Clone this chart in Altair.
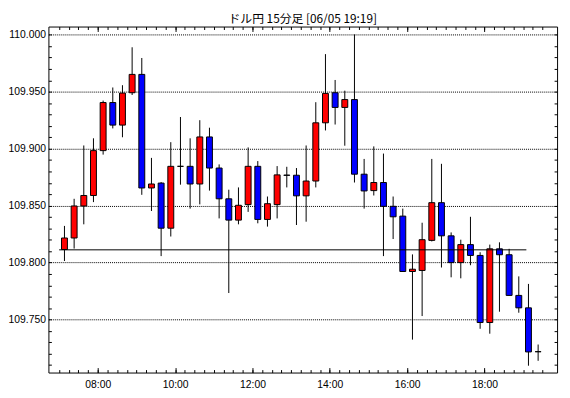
import altair as alt
import pandas as pd

# 15-minute bars starting 07:00 (06/05), last bar 19:15
bar_start = [f"{(420 + 15 * i) // 60:02d}:{(420 + 15 * i) % 60:02d}" for i in range(50)]

opens = [109.8115, 109.8216, 109.8497, 109.8589, 109.8983, 109.9405, 109.9207, 109.9491, 109.9652, 109.8655,
         109.8698, 109.8302, 109.8845, 109.8845, 109.8690, 109.9103, 109.8830, 109.8560, 109.8373, 109.8509,
         109.8845, 109.8379, 109.8509, 109.8768, 109.8767, 109.8586, 109.8716, 109.9227, 109.9491, 109.9362,
         109.9431, 109.8776, 109.8632, 109.8703, 109.8494, 109.8408, 109.7922, 109.7931, 109.8195, 109.8526,
         109.8235, 109.8000, 109.8158, 109.8063, 109.7474, 109.8121, 109.8069, 109.7712, 109.7603, 109.7218]
highs = [109.8322, 109.8560, 109.9028, 109.9091, 109.9422, 109.9537, 109.9557, 109.9890, 109.9796, 109.8919,
         109.8707, 109.9057, 109.9278, 109.9091, 109.9250, 109.9184, 109.8862, 109.8640, 109.8660, 109.9011,
         109.8891, 109.8580, 109.8847, 109.8841, 109.8830, 109.9028, 109.9408, 109.9830, 109.9603, 109.9509,
         110.0003, 109.8910, 109.9020, 109.8957, 109.8580, 109.8474, 109.8072, 109.8350, 109.8910, 109.8867,
         109.8265, 109.8201, 109.8402, 109.8091, 109.8158, 109.8178, 109.8121, 109.7879, 109.7813, 109.7281]
lows = [109.8014, 109.8123, 109.8336, 109.8531, 109.8948, 109.9178, 109.9100, 109.9471, 109.8595, 109.8453,
        109.8057, 109.8229, 109.8684, 109.8474, 109.8511, 109.8632, 109.8388, 109.7733, 109.8336, 109.8445,
        109.8345, 109.8316, 109.8388, 109.8660, 109.8330, 109.8359, 109.8660, 109.9160, 109.9212, 109.9026,
        109.8703, 109.8474, 109.8589, 109.8057, 109.8207, 109.7922, 109.7324, 109.7531, 109.8186, 109.7957,
        109.7871, 109.7862, 109.7977, 109.7419, 109.7376, 109.7569, 109.7712, 109.7560, 109.7095, 109.7138]
closes = [109.8216, 109.8497, 109.8589, 109.8983, 109.9405, 109.9207, 109.9488, 109.9652, 109.8655, 109.8690,
          109.8302, 109.8845, 109.8845, 109.8690, 109.9103, 109.8830, 109.8560, 109.8373, 109.8503, 109.8845,
          109.8379, 109.8517, 109.8770, 109.8766, 109.8586, 109.8716, 109.9227, 109.9485, 109.9362, 109.9431,
          109.8776, 109.8629, 109.8703, 109.8494, 109.8402, 109.7922, 109.7942, 109.8201, 109.8526, 109.8235,
          109.8000, 109.8158, 109.8063, 109.7474, 109.8121, 109.8069, 109.7712, 109.7603, 109.7216, 109.7218]

ref_level = [109.8112]
ref_span = ["07:00", "19:05"]

y_major = [109.75, 109.80, 109.85, 109.90, 109.95, 110.00]
y_minor = [round(109.71 + 0.01 * k, 2) for k in range(30)]
x_major_labels = ["08:00", "10:00", "12:00", "14:00", "16:00", "18:00"]

title_text = ["ドル円 15分足 [06/05  19:19]"]


def to_min(s):
    h, m = s.split(":")
    return int(h) * 60 + int(m)


df = pd.DataFrame({
    "start": bar_start,
    "open": opens, "high": highs, "low": lows, "close": closes,
})
df["t"] = df["start"].map(to_min) + 8.25
df["col"] = ["#FF0000" if c > o else ("#0000FF" if c < o else "#000000") for o, c in zip(opens, closes)]

ref_df = pd.DataFrame({"x": [to_min(ref_span[0])], "x2": [to_min(ref_span[1])], "y": ref_level})
title_df = pd.DataFrame({"title": title_text})

x_major = [to_min(s) for s in x_major_labels]
x_minor = list(range(420, 1185, 15))

x_scale = alt.Scale(domain=[411, 1185], nice=False, zero=False)
y_scale = alt.Scale(domain=[109.7035, 110.0072], nice=False, zero=False)

LF = "Liberation Sans"

tick_axis = dict(labels=False, domain=False, grid=False, ticks=True, tickColor="black",
                 tickWidth=1, title=None)

wicks = alt.Chart(df).mark_rule(color="black", strokeWidth=1).encode(
    x=alt.X("t:Q", scale=x_scale, axis=alt.Axis(
        values=x_major, title=None, ticks=False, domain=False, grid=False,
        labelExpr="(datum.value < 600 ? '0' : '') + floor(datum.value / 60) + ':00'",
        labelFont=LF, labelFontSize=10.5, labelColor="black", labelPadding=7)),
    y=alt.Y("low:Q", scale=y_scale, axis=alt.Axis(
        values=y_major, format=".3f", title=None, ticks=False, domain=False,
        grid=True, gridColor="black", gridDash=[1, 1], gridOpacity=1, gridWidth=1,
        labelFont=LF, labelFontSize=10.5, labelColor="black", labelPadding=3)),
    y2="high:Q",
)

bodies = alt.Chart(df).mark_bar(size=6, stroke="black", strokeWidth=1).encode(
    x=alt.X("t:Q", scale=x_scale, axis=alt.Axis(values=x_minor, tickSize=3, offset=-3, orient="bottom", **tick_axis)),
    y=alt.Y("open:Q", scale=y_scale, axis=alt.Axis(values=y_minor, tickSize=3, offset=-3, orient="left", **tick_axis)),
    y2="close:Q",
    color=alt.Color("col:N", scale=None),
)

ref = alt.Chart(ref_df).mark_rule(color="black", strokeWidth=1).encode(
    x=alt.X("x:Q", scale=x_scale, axis=alt.Axis(values=x_minor, tickSize=3, offset=-3, orient="top", **tick_axis)),
    x2="x2:Q",
    y=alt.Y("y:Q", scale=y_scale, axis=alt.Axis(values=y_minor, tickSize=3, offset=-3, orient="right", **tick_axis)),
)

ghost1 = alt.Chart(ref_df).mark_rule(opacity=0).encode(
    x=alt.X("x:Q", scale=x_scale, axis=alt.Axis(values=x_major, tickSize=5, offset=-5, orient="bottom", **tick_axis)),
    y=alt.Y("y:Q", scale=y_scale, axis=None),
)
ghost2 = alt.Chart(ref_df).mark_rule(opacity=0).encode(
    x=alt.X("x:Q", scale=x_scale, axis=alt.Axis(values=x_major, tickSize=5, offset=-5, orient="top", **tick_axis)),
    y=alt.Y("y:Q", scale=y_scale, axis=None),
)

title_mark = alt.Chart(title_df).mark_text(
    font="Noto Sans CJK JP", fontSize=12, color="black", align="center", baseline="alphabetic"
).encode(
    text="title:N",
    x=alt.value(258),
    y=alt.value(-4),
)

chart = alt.layer(wicks, bodies, ref, ghost1, ghost2, title_mark).resolve_axis(
    x="independent", y="independent"
).properties(
    width=516, height=351,
    autosize=alt.AutoSizeParams(type="none"),
    padding={"left": 41, "top": 16, "right": 5, "bottom": 22},
    background="white",
).configure_view(stroke="black", strokeWidth=1)

chart.save("out.html", embed_options={"renderer": "svg", "actions": False})
